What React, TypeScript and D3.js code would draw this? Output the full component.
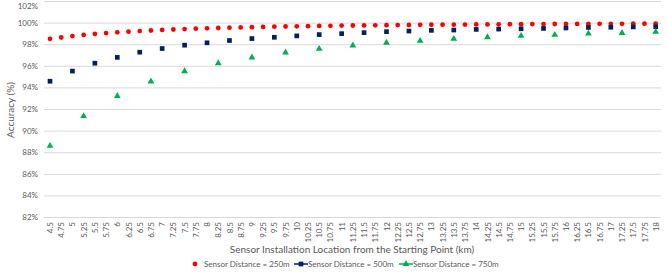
import { axisBottom, axisLeft, scaleLinear, scalePoint, select, symbol, symbolCircle, symbolSquare, symbolTriangle } from 'd3'
import { useEffect, useRef } from 'react'

// installation positions along the road (km)
const locations = [
  '4.5','4.75','5','5.25','5.5','5.75','6','6.25','6.5','6.75','7','7.25','7.5','7.75',
  '8','8.25','8.5','8.75','9','9.25','9.5','9.75','10','10.25','10.5','10.75','11','11.25',
  '11.5','11.75','12','12.25','12.5','12.75','13','13.25','13.5','13.75','14','14.25','14.5','14.75',
  '15','15.25','15.5','15.75','16','16.25','16.5','16.75','17','17.25','17.5','17.75','18',
]

const acc250 = [
  98.50, 98.62, 98.75, 98.86, 98.95, 99.03, 99.10, 99.16, 99.22, 99.27, 99.32, 99.36, 99.40, 99.44,
  99.47, 99.50, 99.53, 99.55, 99.58, 99.60, 99.62, 99.64, 99.66, 99.67, 99.69, 99.70, 99.72, 99.73,
  99.74, 99.75, 99.76, 99.77, 99.78, 99.79, 99.80, 99.81, 99.81, 99.82, 99.83, 99.83, 99.84, 99.85,
  99.85, 99.86, 99.86, 99.87, 99.87, 99.88, 99.88, 99.89, 99.89, 99.89, 99.90, 99.90, 99.90,
]

// 500m spacing -> every 0.5 km
const loc500 = ['4.5','5','5.5','6','6.5','7','7.5','8','8.5','9','9.5','10','10.5','11',
  '11.5','12','12.5','13','13.5','14','14.5','15','15.5','16','16.5','17','17.5','18']
const acc500 = [94.57, 95.51, 96.24, 96.78, 97.26, 97.60, 97.91, 98.13, 98.34, 98.52, 98.64, 98.77, 98.89, 98.98,
  99.07, 99.16, 99.22, 99.28, 99.31, 99.37, 99.40, 99.43, 99.46, 99.50, 99.55, 99.57, 99.60, 99.62]

// 750m spacing -> every 0.75 km
const loc750 = ['4.5','5.25','6','6.75','7.5','8.25','9','9.75','10.5','11.25','12','12.75',
  '13.5','14.25','15','15.75','16.5','17.25','18']
const acc750 = [88.59, 91.34, 93.20, 94.55, 95.50, 96.24, 96.77, 97.23, 97.57, 97.88, 98.13, 98.31,
  98.50, 98.65, 98.77, 98.86, 98.98, 99.04, 99.14]

const yTicks = [82, 84, 86, 88, 90, 92, 94, 96, 98, 100, 102]

const series = [
  { name: 'Sensor Distance = 250m', color: '#ff0000', shape: symbolCircle, size: 18, x: locations, y: acc250 },
  { name: 'Sensor Distance = 500m', color: '#002060', shape: symbolSquare, size: 22, x: loc500, y: acc500 },
  { name: 'Sensor Distance = 750m', color: '#00b050', shape: symbolTriangle, size: 20, x: loc750, y: acc750 },
]

const W = 667
const H = 277
const font = 'Lato, "Open Sans", sans-serif'
const textColor = '#595959'

export default function App() {
  const svgRef = useRef<SVGSVGElement | null>(null)

  useEffect(() => {
    if (!svgRef.current) return
    const svg = select(svgRef.current)
    svg.selectAll('*').remove()

    const xScale = scalePoint<string>().domain(locations).range([50, 655.7])
    const yScale = scaleLinear().domain([82, 102]).range([217, 1])

    // gridlines + y labels
    const yAxis = svg.append('g')
      .attr('transform', 'translate(44,0)')
      .call(axisLeft(yScale).tickValues(yTicks).tickFormat(d => `${d}%`).tickSize(-617).tickPadding(6))
    yAxis.select('.domain').remove()
    yAxis.selectAll('line').attr('stroke', '#d9d9d9').attr('stroke-width', 1)
    yAxis.selectAll<SVGTextElement, number>('text')
      .attr('fill', textColor)
      .style('font-family', font)
      .style('font-size', '8px')
      // top label sits against the edge, nudge it inside
      .attr('dy', d => (d === 102 ? '0.9em' : '0.32em'))

    // x tick labels, rotated
    const xAxis = svg.append('g')
      .attr('transform', 'translate(0,217)')
      .call(axisBottom(xScale).tickSize(0).tickPadding(0))
    xAxis.select('.domain').remove()
    xAxis.selectAll<SVGTextElement, string>('text')
      .attr('fill', textColor)
      .style('font-family', font)
      .style('font-size', '8px')
      .attr('text-anchor', 'end')
      .attr('dy', '0.32em')
      .attr('transform', 'translate(0,5) rotate(-90)')
      .attr('x', 0)
      .attr('y', 0)

    // markers
    series.forEach(s => {
      svg.append('g')
        .selectAll('path')
        .data(s.y)
        .join('path')
        .attr('d', symbol(s.shape, s.size)())
        .attr('transform', (d, i) => `translate(${xScale(s.x[i])},${yScale(d)})`)
        .attr('fill', s.color)
    })

    // axis titles
    svg.append('text')
      .attr('x', 352).attr('y', 253)
      .attr('text-anchor', 'middle')
      .attr('fill', textColor)
      .style('font-family', font)
      .style('font-size', '10px')
      .text('Sensor Installation Location from the Starting Point (km)')
    svg.append('text')
      .attr('transform', 'translate(14,110) rotate(-90)')
      .attr('text-anchor', 'middle')
      .attr('fill', textColor)
      .style('font-family', font)
      .style('font-size', '10px')
      .text('Accuracy (%)')

    // legend
    const legendX = [195, 301, 406]
    series.forEach((s, i) => {
      const g = svg.append('g').attr('transform', `translate(${legendX[i]},264)`)
      if (i > 0) {
        g.append('line').attr('x1', -7).attr('x2', 7).attr('stroke', s.color).attr('stroke-width', 1.5)
      }
      g.append('path').attr('d', symbol(s.shape, s.size)()).attr('fill', s.color)
      g.append('text')
        .attr('x', i > 0 ? 7 : 9)
        .attr('dy', '0.32em')
        .attr('fill', textColor)
        .style('font-family', font)
        .style('font-size', '8px')
        .text(s.name)
    })
  }, [])

  return (
    <svg
      ref={svgRef}
      width={W}
      height={H}
      style={{ position: 'absolute', left: 0, top: 0, background: '#fff' }}
    />
  )
}
